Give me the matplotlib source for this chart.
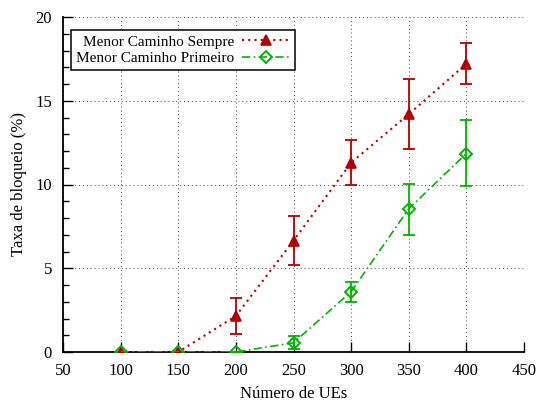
import numpy as np
import matplotlib
matplotlib.use('Agg')
import matplotlib.pyplot as plt
from matplotlib.ticker import MultipleLocator

plt.rcParams['font.family'] = ['Liberation Serif', 'DejaVu Serif']
plt.rcParams['font.size'] = 12

# dados
ues = [100, 150, 200, 250, 300, 350, 400]

sempre = [0.0, 0.0, 2.15, 6.65, 11.3, 14.2, 17.2]
sempre_min = [0.0, 0.0, 1.07, 5.2, 9.95, 12.1, 16.0]
sempre_max = [0.0, 0.0, 3.2, 8.1, 12.65, 16.3, 18.45]

primeiro = [0.0, 0.0, 0.0, 0.55, 3.6, 8.55, 11.85]
primeiro_min = [0.0, 0.0, 0.0, 0.2, 3.0, 7.0, 9.9]
primeiro_max = [0.0, 0.0, 0.0, 0.95, 4.2, 10.05, 13.85]

VERMELHO = '#b40000'
VERDE = '#00b400'

fig = plt.figure(figsize=(5.38, 4.05), dpi=100)
ax = fig.add_axes([63/538, 1 - 352/405, 461/538, 335/405])

s = np.array(sempre)
p = np.array(primeiro)
err_s = [s - np.array(sempre_min), np.array(sempre_max) - s]
err_p = [p - np.array(primeiro_min), np.array(primeiro_max) - p]

# barras de erro
ax.errorbar(ues, sempre, yerr=err_s, color=VERMELHO, ls='none',
            capsize=4, elinewidth=1.3, capthick=1.3, zorder=3)
ax.errorbar(ues, primeiro, yerr=err_p, color=VERDE, ls='none',
            capsize=4, elinewidth=1.3, capthick=1.3, zorder=3)

# curvas
ax.plot(ues, sempre, color=VERMELHO, ls=(0, (1, 2)), lw=1.5,
        marker='^', ms=7, mfc=VERMELHO, mew=1.2,
        label='Menor Caminho Sempre', zorder=4)
ax.plot(ues, primeiro, color=VERDE, ls=(0, (5, 2, 1, 2)), lw=1.2,
        marker='D', ms=6, mfc='none', mew=1.4,
        label='Menor Caminho Primeiro', zorder=4)

ax.set_xlim(50, 450)
ax.set_ylim(0, 20)
ax.xaxis.set_major_locator(MultipleLocator(50))
ax.yaxis.set_major_locator(MultipleLocator(5))
ax.yaxis.set_minor_locator(MultipleLocator(1))
ax.tick_params(direction='in', length=7, width=1, pad=8)
ax.tick_params(which='minor', direction='in', length=4, width=1)
ax.tick_params(top=False, right=False)

ax.spines['top'].set_visible(False)
ax.spines['right'].set_visible(False)
ax.spines['left'].set_linewidth(1.3)
ax.spines['bottom'].set_linewidth(1.3)

ax.grid(True, which='major', color='#444444', ls=(0, (1, 3)), lw=0.7)
ax.set_axisbelow(True)

ax.set_xlabel('Número de UEs', labelpad=5)
ax.set_ylabel('Taxa de bloqueio (%)', labelpad=6)

leg = ax.legend(loc='upper left', bbox_to_anchor=(0.0, 0.985), markerfirst=False,
                fancybox=False, framealpha=1, edgecolor='black', fontsize=11,
                borderpad=0.3, handlelength=3.2, labelspacing=0.2,
                handletextpad=0.5, borderaxespad=0.55)
leg.get_frame().set_linewidth(1.1)
for t in leg.get_texts():
    t.set_ha('right')

fig.savefig('out.png', dpi=100)
